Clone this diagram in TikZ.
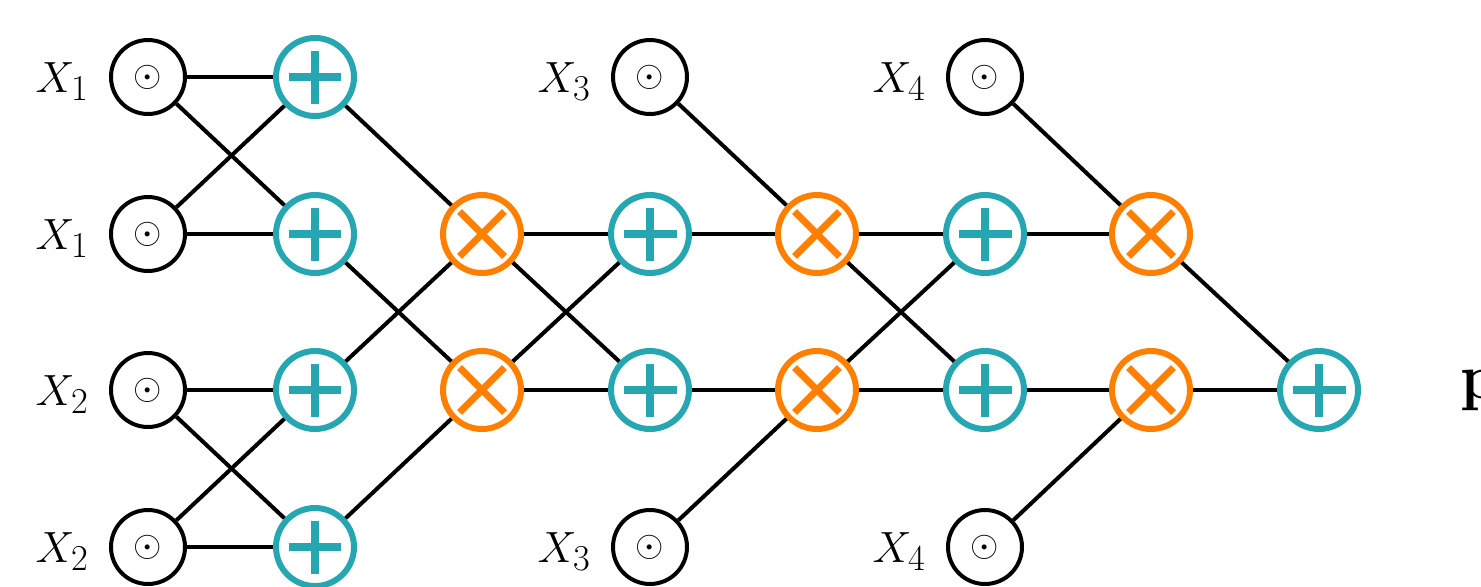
\documentclass[tikz,border=0pt]{standalone}
\definecolor{tealc}{RGB}{38,166,176}
\definecolor{orngc}{RGB}{255,128,0}
\begin{document}
\begin{tikzpicture}[x=0.02cm,y=-0.02cm,
  inp/.style={circle, draw=black, line width=0.08cm, minimum size=1.48cm, inner sep=0pt,
    font=\fontsize{22}{26}\selectfont},
  addnode/.style={circle, draw=tealc, line width=0.12cm, minimum size=1.56cm, inner sep=0pt,
    path picture={
      \draw[tealc, line width=0.15cm]
        ([xshift=-0.53cm]path picture bounding box.center) -- ([xshift=0.53cm]path picture bounding box.center)
        ([yshift=-0.53cm]path picture bounding box.center) -- ([yshift=0.53cm]path picture bounding box.center);}},
  mulnode/.style={circle, draw=orngc, line width=0.12cm, minimum size=1.56cm, inner sep=0pt,
    path picture={
      \draw[orngc, line width=0.14cm]
        ([shift={(-0.45cm,-0.45cm)}]path picture bounding box.center) -- ([shift={(0.45cm,0.45cm)}]path picture bounding box.center)
        ([shift={(-0.45cm,0.45cm)}]path picture bounding box.center) -- ([shift={(0.45cm,-0.45cm)}]path picture bounding box.center);}},
  lab/.style={anchor=base east, inner sep=0pt, font=\fontsize{30.5}{36}\selectfont},
  edge/.style={draw=black, line width=0.08cm}
]
\useasboundingbox (0,0) rectangle (1481,586);
% column 0: inputs
\node[inp] (a0) at (148,77) {$\odot$};
\node[inp] (a1) at (148,234) {$\odot$};
\node[inp] (a2) at (148,390) {$\odot$};
\node[inp] (a3) at (148,547) {$\odot$};
\node[lab] (la0) at (89,92) {$X_1$};
\node[lab] (la1) at (89,249) {$X_1$};
\node[lab] (la2) at (89,405) {$X_2$};
\node[lab] (la3) at (89,562) {$X_2$};
% column 1: plus
\node[addnode] (b0) at (315,77) {};
\node[addnode] (b1) at (315,234) {};
\node[addnode] (b2) at (315,390) {};
\node[addnode] (b3) at (315,547) {};
% column 2: times
\node[mulnode] (c1) at (482,234) {};
\node[mulnode] (c2) at (482,390) {};
% column 3
\node[inp] (d0) at (650,77) {$\odot$};
\node[addnode] (d1) at (650,234) {};
\node[addnode] (d2) at (650,390) {};
\node[inp] (d3) at (650,547) {$\odot$};
\node[lab] (ld0) at (591,92) {$X_3$};
\node[lab] (ld3) at (591,562) {$X_3$};
% column 4
\node[mulnode] (e1) at (817,234) {};
\node[mulnode] (e2) at (817,390) {};
% column 5
\node[inp] (f0) at (985,77) {$\odot$};
\node[addnode] (f1) at (985,234) {};
\node[addnode] (f2) at (985,390) {};
\node[inp] (f3) at (985,547) {$\odot$};
\node[lab] (lf0) at (926,92) {$X_4$};
\node[lab] (lf3) at (926,562) {$X_4$};
% column 6
\node[mulnode] (g1) at (1151,234) {};
\node[mulnode] (g2) at (1151,390) {};
% column 7
\node[addnode] (h2) at (1319,390) {};
% text
\node[anchor=base west, inner sep=0pt, font=\fontsize{36}{40}\selectfont\bfseries] (pp) at (1460,398) {p};
% edges
\draw[edge] (a0) -- (b0); \draw[edge] (a0) -- (b1);
\draw[edge] (a1) -- (b0); \draw[edge] (a1) -- (b1);
\draw[edge] (a2) -- (b2); \draw[edge] (a2) -- (b3);
\draw[edge] (a3) -- (b2); \draw[edge] (a3) -- (b3);
\draw[edge] (b0) -- (c1); \draw[edge] (b1) -- (c2);
\draw[edge] (b2) -- (c1); \draw[edge] (b3) -- (c2);
\draw[edge] (c1) -- (d1); \draw[edge] (c1) -- (d2);
\draw[edge] (c2) -- (d1); \draw[edge] (c2) -- (d2);
\draw[edge] (d0) -- (e1); \draw[edge] (d1) -- (e1);
\draw[edge] (d2) -- (e2); \draw[edge] (d3) -- (e2);
\draw[edge] (e1) -- (f1); \draw[edge] (e1) -- (f2);
\draw[edge] (e2) -- (f1); \draw[edge] (e2) -- (f2);
\draw[edge] (f0) -- (g1); \draw[edge] (f1) -- (g1);
\draw[edge] (f2) -- (g2); \draw[edge] (f3) -- (g2);
\draw[edge] (g1) -- (h2); \draw[edge] (g2) -- (h2);
\end{tikzpicture}
\end{document}
